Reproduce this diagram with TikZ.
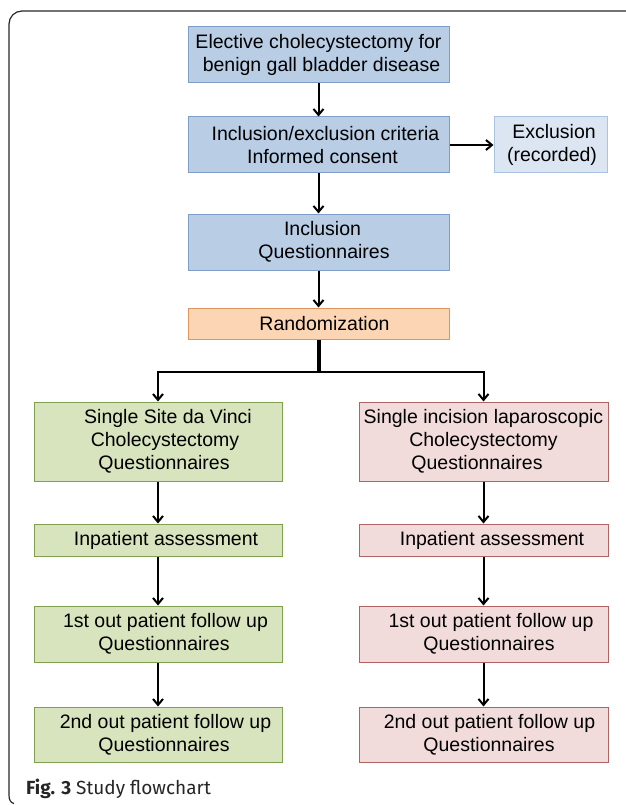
\documentclass[tikz,border=0pt]{standalone}
\usepackage{fontspec}
\setmainfont{Liberation Sans}
\newfontfamily\capfont{Fira Sans}
\usetikzlibrary{arrows.meta}
\definecolor{bfill}{RGB}{185,205,229}
\definecolor{bdraw}{RGB}{126,158,201}
\definecolor{efill}{RGB}{220,230,242}
\definecolor{edraw}{RGB}{170,195,225}
\definecolor{ofill}{RGB}{252,213,181}
\definecolor{odraw}{RGB}{222,150,95}
\definecolor{gfill}{RGB}{215,228,189}
\definecolor{gdraw}{RGB}{128,160,80}
\definecolor{pfill}{RGB}{242,220,219}
\definecolor{pdraw}{RGB}{175,100,100}
\definecolor{framecol}{RGB}{40,40,40}
\newcommand{\hs}[1]{\hspace*{#1}}
\begin{document}
\begin{tikzpicture}[x=1pt,y=-1pt,
  box/.style={draw, line width=1pt, inner sep=0pt, align=center,
    font=\fontsize{19.5}{23}\selectfont, text=black},
  bluebox/.style={box, fill=bfill, draw=bdraw, minimum width=261pt},
  exclbox/.style={box, fill=efill, draw=edraw},
  orangebox/.style={box, fill=ofill, draw=odraw, minimum width=261pt},
  greenbox/.style={box, fill=gfill, draw=gdraw, minimum width=248pt},
  pinkbox/.style={box, fill=pfill, draw=pdraw, minimum width=249pt},
  arr/.style={-{Straight Barb[length=6pt,width=10pt]}, line width=2pt},
  trunk/.style={line width=4pt},
  framestyle/.style={draw=framecol, line width=1.2pt}
]
\useasboundingbox (0,0) rectangle (625,805);
\fill[white] (0,0) rectangle (625,805);
\draw[framestyle] (630,11) -- (22,11) .. controls (14.8,11) and (9,16.8) .. (9,24)
  -- (9,795) .. controls (9,800) and (10.5,802.5) .. (14,803.5);

\node[bluebox, minimum height=56pt] (b1) at (318.5,54.5)
  {Elective cholecystectomy for\\ \hs{6pt}benign gall bladder disease};
\node[bluebox, minimum height=56pt] (b2) at (318.5,145)
  {\hs{14pt}Inclusion/exclusion criteria\\ \hs{8pt}Informed consent};
\node[exclbox, minimum width=113pt, minimum height=56pt] (ex) at (550.5,145)
  {\hs{7pt}Exclusion\\ \hs{3pt}(recorded)};
\node[bluebox, minimum height=56pt] (b3) at (318.5,242)
  {\hs{8pt}Inclusion\\ \hs{11pt}Questionnaires};
\node[orangebox, minimum height=31pt] (r) at (318.5,323.5)
  {\hs{12pt}Randomization};
\coordinate (split) at (318.5,372);

\node[greenbox, minimum height=79pt] (g1) at (158,441.5)
  {\hs{20pt}Single Site da Vinci\\ \hs{14pt}Cholecystectomy\\ \hs{12pt}Questionnaires};
\node[greenbox, minimum height=32pt] (g2) at (158,540)
  {\hs{16pt}Inpatient assessment};
\node[greenbox, minimum height=56pt] (g3) at (158,634)
  {\hs{15pt}1st out patient follow up\\ \hs{12pt}Questionnaires};
\node[greenbox, minimum height=55pt] (g4) at (158,734.5)
  {\hs{15pt}2nd out patient follow up\\ \hs{12pt}Questionnaires};

\node[pinkbox, minimum height=79pt] (p1) at (483.5,441.5)
  {Single incision laparoscopic\\ Cholecystectomy\hs{14pt}\\ Questionnaires\hs{13pt}};
\node[pinkbox, minimum height=32pt] (p2) at (483.5,540)
  {\hs{17pt}Inpatient assessment};
\node[pinkbox, minimum height=56pt] (p3) at (483.5,634)
  {\hs{15pt}1st out patient follow up\\ \hs{11pt}Questionnaires};
\node[pinkbox, minimum height=55pt] (p4) at (483.5,734.5)
  {\hs{12pt}2nd out patient follow up\\ \hs{11pt}Questionnaires};

\draw[arr] (b1) -- (b2);
\draw[arr] (b2) -- (ex);
\draw[arr] (b2) -- (b3);
\draw[arr] (b3) -- (r);
\draw[trunk] (r.south) -- (split);
\draw[arr] (split) -| (g1.north);
\draw[arr] (split) -| (p1.north);
\draw[arr] (g1) -- (g2);
\draw[arr] (g2) -- (g3);
\draw[arr] (g3) -- (g4);
\draw[arr] (p1) -- (p2);
\draw[arr] (p2) -- (p3);
\draw[arr] (p3) -- (p4);

\node[anchor=base west, inner sep=0pt, font=\capfont\fontsize{19}{22}\selectfont, text=black!85] (cap) at (26,794)
  {\textbf{Fig. 3} Study flowchart};
\end{tikzpicture}
\end{document}
